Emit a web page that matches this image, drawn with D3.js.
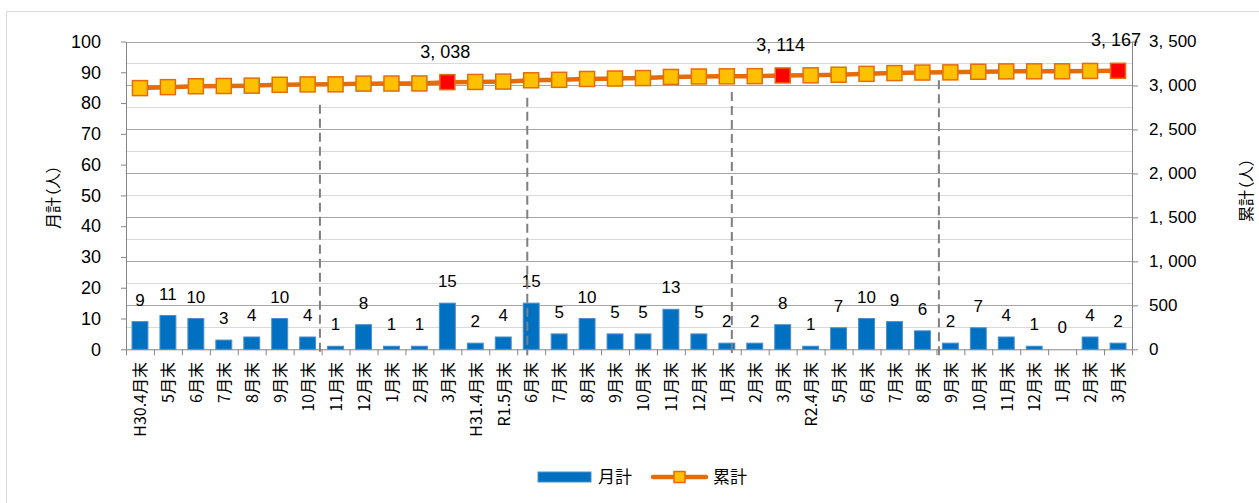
<!DOCTYPE html>
<html>
<head>
<meta charset="utf-8">
<script src="https://cdn.jsdelivr.net/npm/d3@7"></script>
<style>
    body { margin: 0; background: #fff; }
    svg text { fill: #000; }
    .num { font-family: "Liberation Sans Narrow", "Arial Narrow", "Liberation Sans", sans-serif; }
    .jp { font-family: "Noto Sans CJK JP", sans-serif; font-feature-settings: "palt"; }
    .axis path, .axis line { stroke: #868686; }
</style>
</head>
<body>
<div id="chart"></div>
<script>
//categories along the bottom
var categories = ["H30.4月末","5月末","6月末","7月末","8月末","9月末","10月末","11月末","12月末","1月末","2月末","3月末",
                  "H31.4月末","R1.5月末","6月末","7月末","8月末","9月末","10月末","11月末","12月末","1月末","2月末","3月末",
                  "R2.4月末","5月末","6月末","7月末","8月末","9月末","10月末","11月末","12月末","1月末","2月末","3月末"];

//月計 (bars, left axis)
var monthly = [9, 11, 10, 3, 4, 10, 4, 1, 8, 1, 1, 15,
               2, 4, 15, 5, 10, 5, 5, 13, 5, 2, 2, 8,
               1, 7, 10, 9, 6, 2, 7, 4, 1, 0, 4, 2];

//累計 (line, right axis)
var cumulative = [2970, 2981, 2991, 2994, 2998, 3008, 3012, 3013, 3021, 3022, 3023, 3038,
                  3040, 3044, 3059, 3064, 3074, 3079, 3084, 3097, 3102, 3104, 3106, 3114,
                  3115, 3122, 3132, 3141, 3147, 3149, 3156, 3160, 3161, 3161, 3165, 3167];

//points shown in red with a value label
var labeledPoints = [11, 23, 35];

//tick labels
var leftTicks = [0, 10, 20, 30, 40, 50, 60, 70, 80, 90, 100];
var rightTicks = [0, 500, 1000, 1500, 2000, 2500, 3000, 3500];

//dashed dividers (category units) and where they start (cumulative units)
var dividerAt = [6.94, 14.36, 21.68, 29.09];
var dividerTop = [2780, 2860, 2925, 3060];


function setChart(){

    var width = 1259,
        height = 503;

    var svg = d3.select("#chart")
        .append("svg")
        .attr("width", width)
        .attr("height", height);

    //outer frame
    svg.append("rect")
        .attr("x", 6.5).attr("y", 11.5)
        .attr("width", 1400).attr("height", 600)
        .attr("fill", "#fff")
        .attr("stroke", "#d9d9d9");

    var left = 126, right = 1132, top = 41.5, bottom = 349.3;

    //scales
    var x = d3.scaleBand()
        .domain(d3.range(categories.length))
        .range([left, right])
        .paddingInner(0.43)
        .paddingOuter(0.215);

    var xTick = d3.scaleLinear()
        .domain([0, categories.length])
        .range([left, right]);

    var yL = d3.scaleLinear().domain([0, 100]).range([bottom, top]);
    var yR = d3.scaleLinear().domain([0, 3500]).range([bottom, top]);

    function cx(i) { return x(i) + x.bandwidth() / 2; }

    //gridlines every 250 on the right axis
    svg.append("g")
        .selectAll("line")
        .data(d3.range(250, 3501, 250))
        .enter()
        .append("line")
        .attr("x1", left).attr("x2", right)
        .attr("y1", function(d){ return Math.round(yR(d)) + 0.5; })
        .attr("y2", function(d){ return Math.round(yR(d)) + 0.5; })
        .attr("stroke", function(d){ return d % 500 === 0 ? "#a6a6a6" : "#d9d9d9"; })
        .attr("stroke-width", 1);

    //left axis
    var gL = svg.append("g")
        .attr("class", "axis num")
        .attr("transform", "translate(" + left + ",0)")
        .call(d3.axisLeft(yL).tickValues(leftTicks).tickSize(5).tickSizeOuter(0).tickPadding(20));
    gL.selectAll("text").style("font-size", "18px");

    //right axis
    var gR = svg.append("g")
        .attr("class", "axis num")
        .attr("transform", "translate(" + right + ",0)")
        .call(d3.axisRight(yR).tickValues(rightTicks).tickSize(6).tickSizeOuter(0).tickPadding(11)
              .tickFormat(d3.format(",")));
    gR.selectAll("text").style("font-size", "17px").call(spaceComma);

    //bottom axis: ticks between categories
    var gB = svg.append("g")
        .attr("class", "axis")
        .attr("transform", "translate(0," + bottom + ")")
        .call(d3.axisBottom(xTick).tickValues(d3.range(categories.length + 1)).tickSize(6).tickSizeOuter(0).tickFormat(""));

    //category labels, rotated
    svg.append("g")
        .selectAll("text")
        .data(categories)
        .enter()
        .append("text")
        .attr("class", "jp")
        .attr("transform", function(d, i){ return "translate(" + (cx(i) + 0.5) + ",362) rotate(-90)"; })
        .attr("text-anchor", "end")
        .attr("dy", "0.36em")
        .style("font-size", "16px")
        .text(function(d){ return d; });

    //bars
    svg.append("g")
        .selectAll("rect")
        .data(monthly)
        .enter()
        .append("rect")
        .attr("x", function(d, i){ return x(i); })
        .attr("y", function(d){ return yL(d); })
        .attr("width", x.bandwidth())
        .attr("height", function(d){ return bottom - yL(d); })
        .attr("fill", "#0070c0")
        .attr("stroke", "#4d8fcc")
        .attr("stroke-width", 1);

    //bar labels
    svg.append("g")
        .selectAll("text")
        .data(monthly)
        .enter()
        .append("text")
        .attr("class", "num")
        .attr("x", function(d, i){ return cx(i); })
        .attr("y", function(d){ return yL(d) - 22; })
        .attr("dy", "0.36em")
        .attr("text-anchor", "middle")
        .style("font-size", "17px")
        .text(function(d){ return d; });

    //dashed dividers
    svg.append("g")
        .selectAll("line")
        .data(dividerAt)
        .enter()
        .append("line")
        .attr("x1", function(d){ return xTick(d); })
        .attr("x2", function(d){ return xTick(d); })
        .attr("y1", function(d, i){ return yR(dividerTop[i]); })
        .attr("y2", bottom + 6)
        .attr("stroke", "#7f7f7f")
        .attr("stroke-width", 2)
        .attr("stroke-dasharray", "9,5");

    //cumulative line
    var line = d3.line()
        .x(function(d, i){ return cx(i); })
        .y(function(d){ return yR(d); });

    svg.append("path")
        .datum(cumulative)
        .attr("d", line)
        .attr("fill", "none")
        .attr("stroke", "#e46c0a")
        .attr("stroke-width", 4.5);

    //markers
    var ms = 15;
    svg.append("g")
        .selectAll("rect")
        .data(cumulative)
        .enter()
        .append("rect")
        .attr("x", function(d, i){ return cx(i) - ms / 2; })
        .attr("y", function(d){ return yR(d) - ms / 2; })
        .attr("width", ms)
        .attr("height", ms)
        .attr("fill", function(d, i){ return labeledPoints.indexOf(i) >= 0 ? "#ff0000" : "#ffc000"; })
        .attr("stroke", "#e46c0a")
        .attr("stroke-width", 1.5);

    //cumulative labels
    svg.append("g")
        .selectAll("text")
        .data(labeledPoints)
        .enter()
        .append("text")
        .attr("class", "num")
        .attr("x", function(i){ return cx(i) - 2; })
        .attr("y", function(i){ return yR(cumulative[i]) - 31; })
        .attr("dy", "0.36em")
        .attr("text-anchor", "middle")
        .style("font-size", "18px")
        .text(function(i){ return d3.format(",")(cumulative[i]); })
        .call(spaceComma);

    //axis titles
    svg.append("text")
        .attr("class", "jp")
        .attr("transform", "translate(53,197) rotate(-90)")
        .attr("text-anchor", "middle")
        .attr("dy", "0.36em")
        .style("font-size", "16px")
        .text("月計（人）");

    svg.append("text")
        .attr("class", "jp")
        .attr("transform", "translate(1246,190) rotate(-90)")
        .attr("text-anchor", "middle")
        .attr("dy", "0.36em")
        .style("font-size", "16px")
        .text("累計（人）");

    //legend
    var lg = svg.append("g").attr("transform", "translate(0,477)");
    lg.append("rect")
        .attr("x", 538).attr("y", -5)
        .attr("width", 53).attr("height", 10)
        .attr("fill", "#0070c0")
        .attr("stroke", "#4d8fcc");
    lg.append("text")
        .attr("class", "jp")
        .attr("x", 598).attr("dy", "0.36em")
        .style("font-size", "17px")
        .text("月計");
    lg.append("line")
        .attr("x1", 653).attr("x2", 706)
        .attr("stroke", "#e46c0a")
        .attr("stroke-width", 4.5)
        .attr("stroke-linecap", "round");
    lg.append("rect")
        .attr("x", 674).attr("y", -5.5)
        .attr("width", 11).attr("height", 11)
        .attr("fill", "#ffc000")
        .attr("stroke", "#e46c0a")
        .attr("stroke-width", 1.5);
    lg.append("text")
        .attr("class", "jp")
        .attr("x", 713).attr("dy", "0.36em")
        .style("font-size", "17px")
        .text("累計");
}

//widen the gap after the thousands comma, like the original
function spaceComma(sel){
    sel.each(function(){
        var t = d3.select(this);
        var s = t.text();
        if (s.indexOf(",") < 0) return;
        var parts = s.split(",");
        t.text(null);
        t.append("tspan").text(parts[0] + ",");
        t.append("tspan").attr("dx", 5).text(parts[1]);
    });
}

window.onload = setChart();
</script>
</body>
</html>
